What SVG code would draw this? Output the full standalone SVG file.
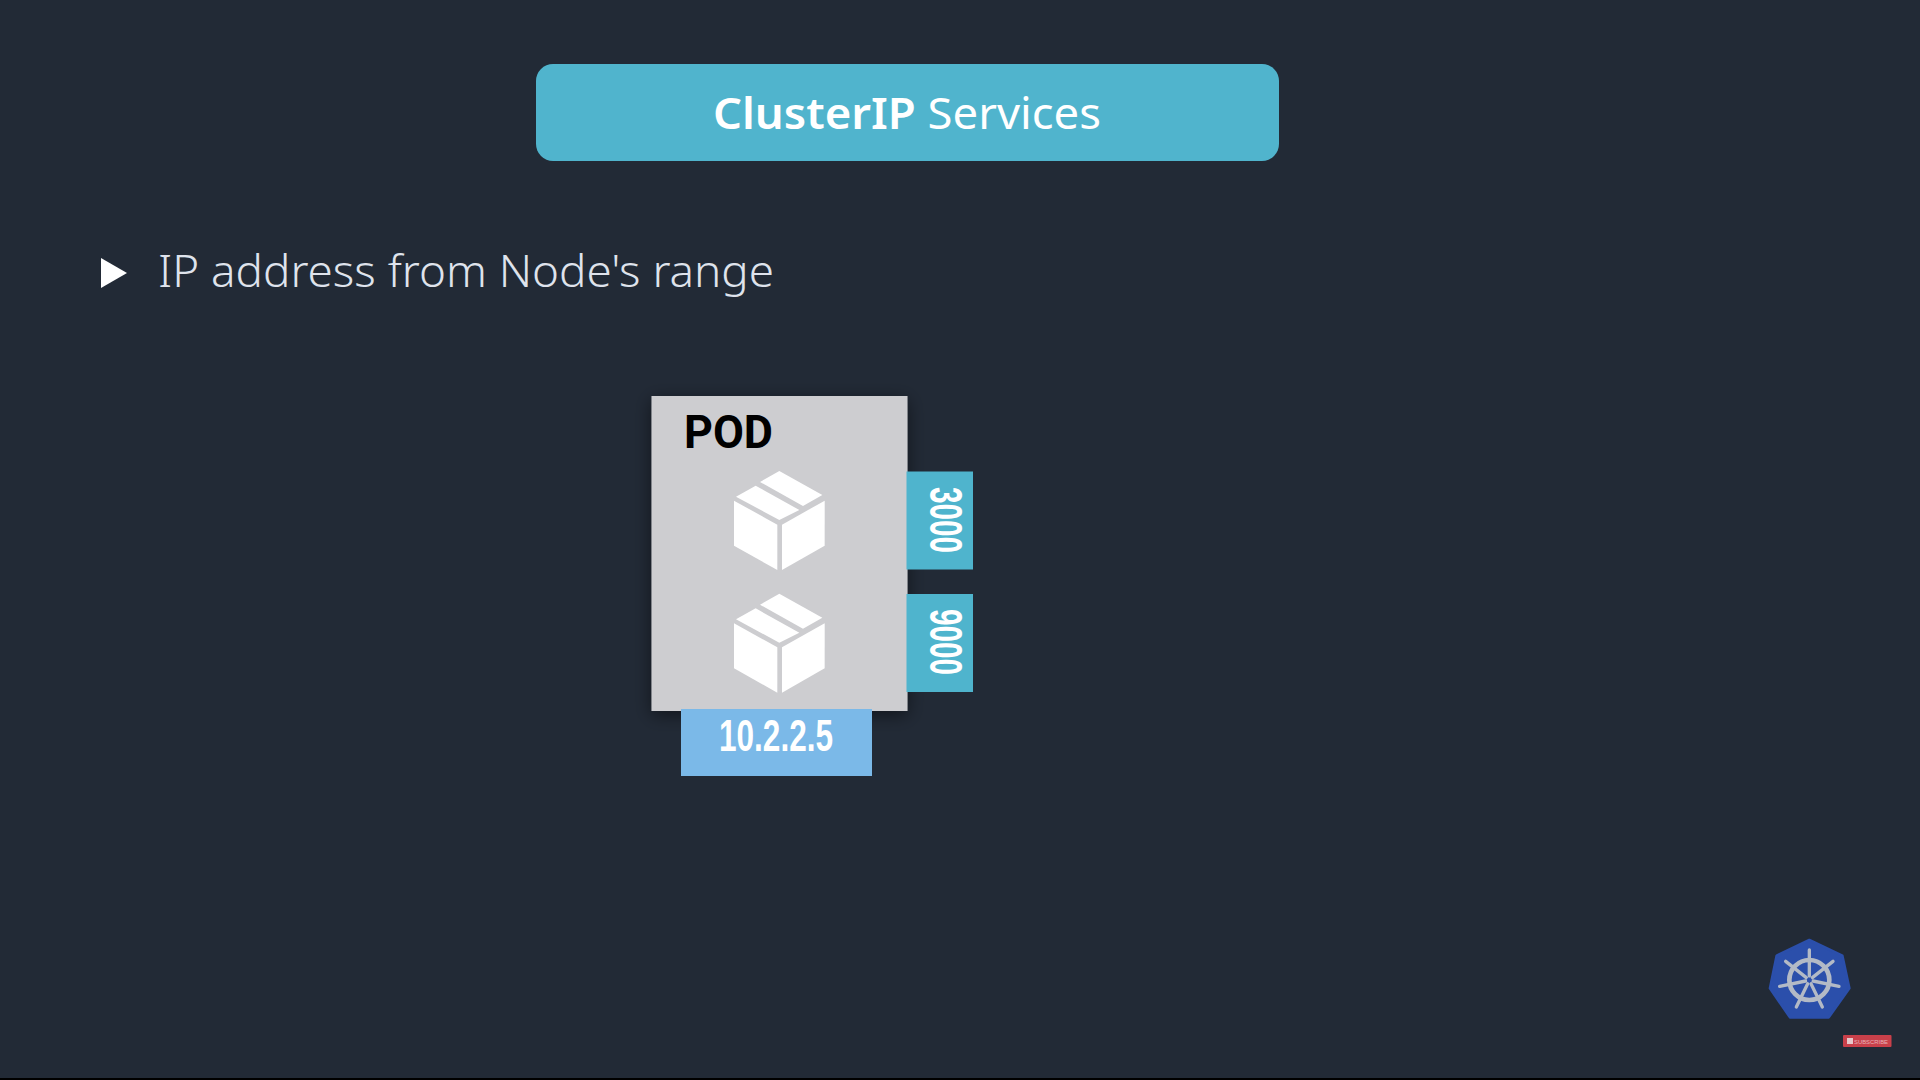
<svg xmlns="http://www.w3.org/2000/svg" xmlns:xlink="http://www.w3.org/1999/xlink" width="1920" height="1080" viewBox="0 0 1920 1080">
<style>
.ui{font-family:"Noto Sans","Open Sans",sans-serif}
.cond{font-family:"Liberation Sans",Arial,sans-serif;font-weight:700;fill:#fff}
.port{fill:#4fb4cd}
.wheel{fill:none;stroke:#b3bac6;stroke-linecap:round}
</style>
<defs>
<filter id="sh" x="-20%" y="-20%" width="140%" height="140%"><feDropShadow dx="0" dy="4" stdDeviation="9" flood-color="#000" flood-opacity=".5"/></filter>
<g id="box" fill="#fff">
<polygon points="342,362 472,434 472,570 342,497"/>
<polygon points="486,434 614,362 614,497 486,570"/>
<polygon points="348,350 407,317 538,390 478,420"/>
<polygon points="420,306 478,273 607,345 549,378"/>
</g>
</defs>
<rect width="1920" height="1080" fill="#222a36"/>
<rect y="1078" width="1920" height="2" fill="#000"/>
<g id="title">
<rect x="536" y="64" width="743" height="97" rx="17" fill="#50b4cd"/>
<text class="ui" x="713" y="129" font-size="44" fill="#fff" textLength="388" lengthAdjust="spacingAndGlyphs"><tspan font-weight="600">ClusterIP</tspan> Services</text>
</g>
<g id="bullet">
<polygon points="101,258 127,273 101,288" fill="#fff"/>
<text class="ui" x="158" y="287" font-size="44" fill="#dfe3ec" font-weight="300" textLength="616" lengthAdjust="spacingAndGlyphs">IP address from Node's range</text>
</g>
<g id="pod">
<rect x="651.5" y="396" width="256" height="315" fill="#cdcdd0" filter="url(#sh)"/>
<text x="684" y="448" font-family="Roboto,'Liberation Sans',sans-serif" font-weight="700" font-size="47" fill="#000" textLength="89" lengthAdjust="spacingAndGlyphs">POD</text>
<use xlink:href="#box" href="#box" transform="translate(620,380) scale(.33333)"/>
<use xlink:href="#box" href="#box" transform="translate(620,502.7) scale(.33333)"/>
</g>
<g id="port-3000">
<rect class="port" x="906.500" y="471.500" width="66.500" height="98"/>
<text class="cond" transform="translate(930,487) rotate(90)" font-size="46" textLength="66" lengthAdjust="spacingAndGlyphs">3000</text>
</g>
<g id="port-9000">
<rect class="port" x="906.500" y="594" width="66.500" height="98"/>
<text class="cond" transform="translate(930,609) rotate(90)" font-size="46" textLength="66" lengthAdjust="spacingAndGlyphs">9000</text>
</g>
<g id="ip">
<rect x="681" y="709" width="191" height="67" fill="#7bb9e8"/>
<text class="cond" x="719" y="751" font-size="44" textLength="114" lengthAdjust="spacingAndGlyphs">10.2.2.5</text>
</g>
<g id="logo" transform="translate(1740,920) scale(.33333)">
<polygon points="208,60 307,107 328,205 266,292 150,292 90,205 110,107" fill="#2b4fab" stroke="#2b4fab" stroke-width="8" stroke-linejoin="round"/>
<circle class="wheel" cx="208" cy="180" r="60" stroke-width="14"/>
<g class="wheel" stroke-width="10">
<line x1="208" y1="90" x2="208" y2="168"/>
<line x1="137" y1="124" x2="199" y2="173"/>
<line x1="279" y1="124" x2="217" y2="173"/>
<line x1="119" y1="199" x2="197" y2="183"/>
<line x1="297" y1="199" x2="219" y2="183"/>
<line x1="169" y1="261" x2="203" y2="191"/>
<line x1="247" y1="261" x2="213" y2="191"/>
</g>
<circle cx="208" cy="180" r="7" fill="#2b4fab"/>
</g>
<g id="subscribe">
<rect x="1843" y="1035" width="48.500" height="12" rx="1" fill="#c9404a"/>
<rect x="1847" y="1038" width="6" height="6" fill="#e6c8cb"/>
<text x="1854" y="1043.500" font-family="'Liberation Sans',sans-serif" font-size="6" fill="#e6b4b8" textLength="34" lengthAdjust="spacingAndGlyphs">SUBSCRIBE</text>
</g>
</svg>
